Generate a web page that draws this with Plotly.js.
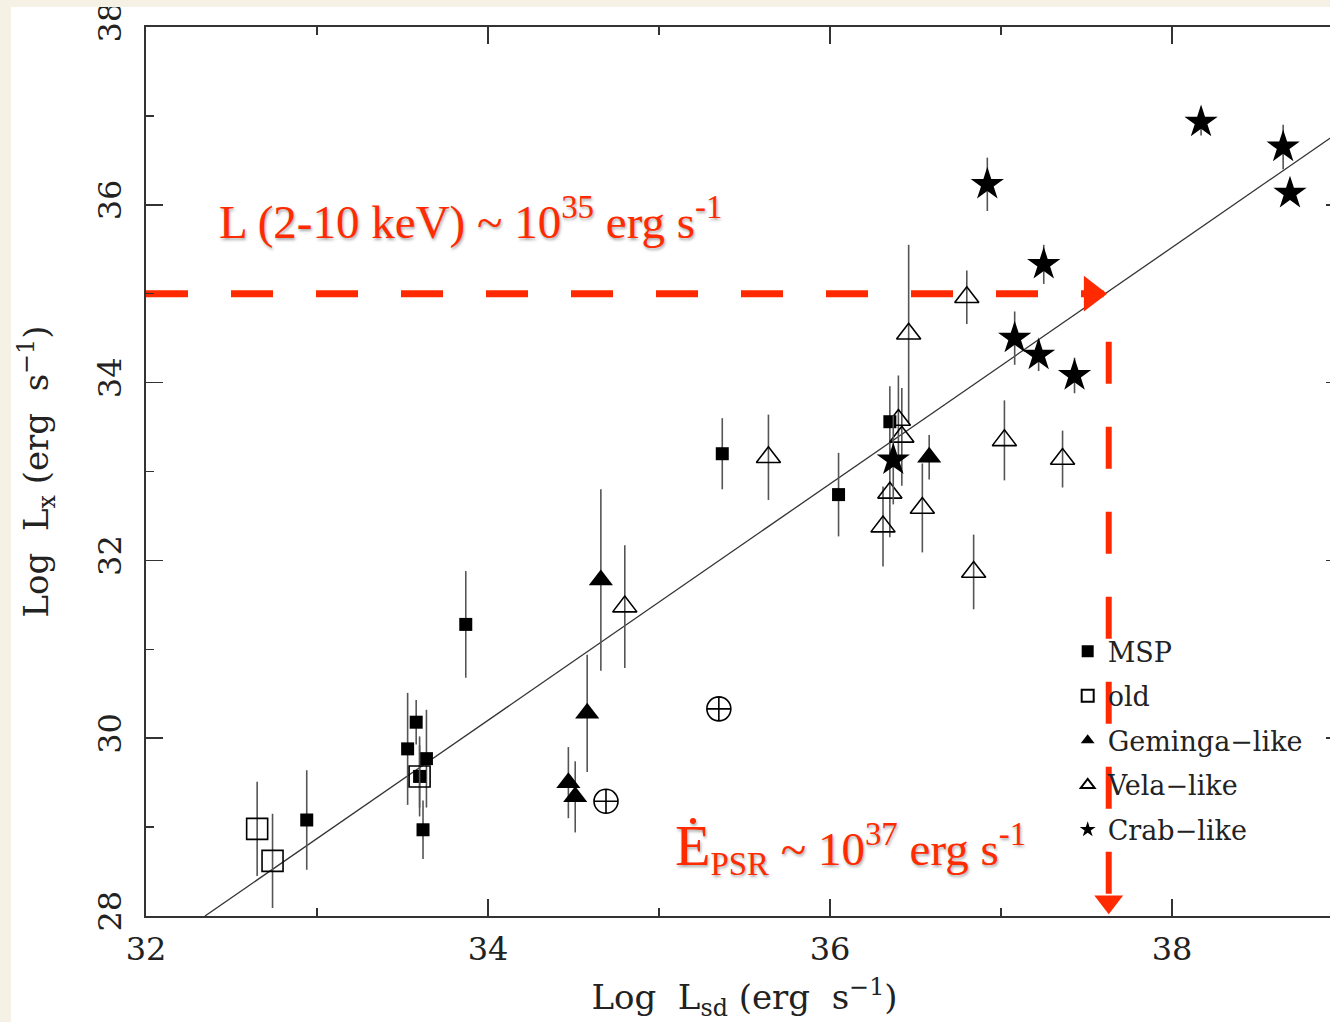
<!DOCTYPE html>
<html>
<head>
<meta charset="utf-8">
<script src="https://cdn.plot.ly/plotly-3.0.1.min.js"></script>
<style>
  html, body { margin: 0; padding: 0; background: #f5f1e4; overflow: hidden; width: 1330px; height: 1022px; }
  #chart { position: absolute; left: 11px; top: 7px; width: 1340px; height: 1015px; background: #ffffff; }
</style>
</head>
<body>
<div id="chart"></div>
<script>
// ---- Data ----
const mspX   = [32.94, 33.87, 33.58, 33.53, 33.64, 33.60, 33.62, 35.37, 36.05, 36.35];
const mspY   = [29.08, 31.28, 30.18, 29.88, 29.77, 29.57, 28.97, 33.20, 32.74, 33.56];
const mspErr = [0.56, 0.60, 0.25, 0.63, 0.55, 0.45, 0.33, 0.40, 0.47, 0.40];

const oldX   = [32.65, 32.74, 33.60];
const oldY   = [28.98, 28.62, 29.57];
const oldErr = [0.53, 0.53, 0.35];

const gemX   = [34.66, 34.58, 34.47, 34.51, 36.58];
const gemY   = [31.78, 30.28, 29.50, 29.34, 33.16];
const gemErr = [1.02, 0.66, 0.40, 0.40, 0.25];

const velaX   = [34.80, 35.64, 36.46, 36.80, 37.02, 37.36, 36.54, 36.40, 36.42, 36.35, 36.31, 36.84];
const velaY   = [31.48, 33.16, 34.55, 34.96, 33.35, 33.14, 32.59, 33.58, 33.39, 32.76, 32.38, 31.87];
const velaErr = [0.69, 0.48, 1.00, 0.30, 0.45, 0.32, 0.50, 0.50, 0.55, 0.50, 0.45, 0.42];

const crabX   = [36.37, 36.92, 37.25, 37.08, 37.22, 37.43, 38.17, 38.65, 38.69];
const crabY   = [33.13, 36.23, 35.33, 34.50, 34.31, 34.08, 36.93, 36.65, 36.13];
const crabErr = [0.50, 0.30, 0.22, 0.30, 0.18, 0.20, 0.15, 0.25, 0.00];

const otherX = [35.35, 34.69];
const otherY = [30.33, 29.29];

const fitX = [32.345, 39.0];
const fitY = [28.0, 36.85];

// red reference lines: L_X ~ 1e35, Edot ~ 10^37.63
const refHX = [32.0, 37.60];
const refHY = [35.0, 35.0];
const arrowHX = [37.53];
const arrowHY = [35.0];
const refVX = [37.63, 37.63];
const refVY = [34.46, 28.15];
const arrowVX = [37.63];
const arrowVY = [28.16];

const legendNames = ['MSP', 'old', 'Geminga\u2212like', 'Vela\u2212like', 'Crab\u2212like'];

const errStyle = arr => ({type: 'data', array: arr, visible: true, color: '#555555', thickness: 1.6, width: 0});
const red = '#ff2a00';

const traces = [
  {x: fitX, y: fitY, mode: 'lines', line: {color: '#333333', width: 1.3}, showlegend: false, hoverinfo: 'skip'},
  {x: mspX, y: mspY, mode: 'markers', name: legendNames[0], legendgroup: 'a',
   marker: {symbol: 'square', size: 13, color: '#000000'}, error_y: errStyle(mspErr)},
  {x: oldX, y: oldY, mode: 'markers', name: legendNames[1], legendgroup: 'b',
   marker: {symbol: 'square-open', size: 21, color: '#000000', line: {width: 1.6}}, error_y: errStyle(oldErr)},
  {x: gemX, y: gemY, mode: 'markers', name: legendNames[2], legendgroup: 'c',
   marker: {symbol: 'triangle-up', size: 21, color: '#000000'}, error_y: errStyle(gemErr)},
  {x: velaX, y: velaY, mode: 'markers', name: legendNames[3], legendgroup: 'd',
   marker: {symbol: 'triangle-up-open', size: 21, color: '#000000', line: {width: 1.6}}, error_y: errStyle(velaErr)},
  {x: crabX, y: crabY, mode: 'markers', name: legendNames[4], legendgroup: 'e',
   marker: {symbol: 'star', size: 25, color: '#000000'}, error_y: errStyle(crabErr)},
  {x: otherX, y: otherY, mode: 'markers', showlegend: false,
   marker: {symbol: 'circle-cross-open', size: 24, color: '#000000', line: {width: 1.6}}},
  {x: refHX, y: refHY, mode: 'lines', showlegend: false, hoverinfo: 'skip',
   line: {color: red, width: 7, dash: '42px,43px'}},
  {x: arrowHX, y: arrowHY, mode: 'markers', showlegend: false, hoverinfo: 'skip',
   marker: {symbol: 'triangle-right', size: 31, color: red}},
  {x: refVX, y: refVY, mode: 'lines', showlegend: false, hoverinfo: 'skip',
   line: {color: red, width: 6, dash: '42px,43px'}},
  {x: arrowVX, y: arrowVY, mode: 'markers', showlegend: false, hoverinfo: 'skip',
   marker: {symbol: 'triangle-down', size: 25, color: red}}
];

const tickFont = {family: 'DejaVu Serif', size: 32, color: '#222222'};
const titleFont = {family: 'DejaVu Serif', size: 34, color: '#222222'};
const axisCommon = {
  showgrid: false, zeroline: false, showline: true, linecolor: '#333333', linewidth: 2,
  mirror: 'ticks', ticks: 'inside', ticklen: 17, tickwidth: 1.5, tickcolor: '#333333',
  dtick: 2, tickfont: tickFont, ticklabeloverflow: 'allow',
  minor: {dtick: 1, ticks: 'inside', ticklen: 8, tickwidth: 1.5, tickcolor: '#333333'}
};

const layout = {
  width: 1340, height: 1015,
  margin: {l: 135, r: 8, t: 20, b: 106},
  paper_bgcolor: '#ffffff', plot_bgcolor: '#ffffff',
  showlegend: true,
  legend: {x: 0.77, y: 0.325, xanchor: 'left', yanchor: 'top', bgcolor: 'rgba(0,0,0,0)',
           font: {family: 'DejaVu Serif', size: 27, color: '#222222'},
           itemsizing: 'constant', tracegroupgap: 6.5, traceorder: 'grouped'},
  xaxis: Object.assign({}, axisCommon, {
    range: [32, 39], tick0: 32, ticklabelstandoff: 4,
    minor: Object.assign({}, axisCommon.minor, {tick0: 32}),
    title: {text: 'Log\u00a0 L<sub>sd</sub> (erg\u00a0 s<sup>\u22121</sup>)', font: titleFont, standoff: 18}
  }),
  yaxis: Object.assign({}, axisCommon, {
    range: [28, 38], tick0: 28, tickangle: -90, ticklabelstandoff: 10,
    minor: Object.assign({}, axisCommon.minor, {tick0: 28}),
    title: {text: 'Log\u00a0 L<sub>x</sub> (erg\u00a0 s<sup>\u22121</sup>)', font: titleFont, standoff: 32}
  }),
  annotations: [
    {xref: 'paper', yref: 'paper', x: 0.059, y: 0.785, xanchor: 'left', yanchor: 'middle', showarrow: false,
     text: 'L (2-10 keV) ~ 10<sup>35</sup> erg s<sup>-1</sup>',
     font: {family: 'Liberation Serif', size: 47, color: red, shadow: '1px 2px 3px rgba(0,0,0,0.35)'}},
    {xref: 'paper', yref: 'paper', x: 0.44, y: 0.077, xanchor: 'left', yanchor: 'middle', showarrow: false,
     text: '<span style="font-size:58px">\u0116</span><sub>PSR</sub> ~ 10<sup>37</sup> erg s<sup>-1</sup>',
     font: {family: 'Liberation Serif', size: 47, color: red, shadow: '1px 2px 3px rgba(0,0,0,0.35)'}}
  ]
};

Plotly.newPlot('chart', traces, layout, {displayModeBar: false, staticPlot: true});
</script>
</body>
</html>
